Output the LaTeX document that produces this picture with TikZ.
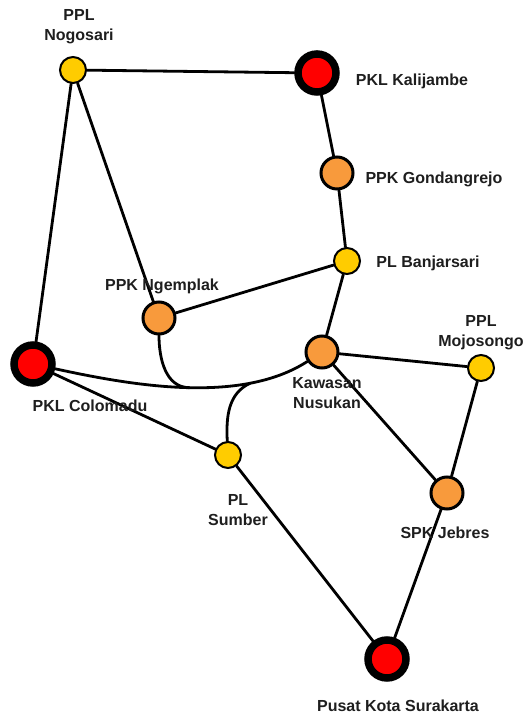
\documentclass[tikz,border=0pt]{standalone}
\usepackage{fontspec}
\setmainfont{Liberation Sans}
\usetikzlibrary{backgrounds}
\definecolor{hubred}{RGB}{255,0,0}
\definecolor{ppkorange}{RGB}{248,154,60}
\definecolor{plyellow}{RGB}{255,204,0}
\definecolor{labelgray}{RGB}{30,30,30}

\tikzset{
    hub/.style={circle, draw=black, fill=hubred, line width=7.5pt, minimum size=38pt, inner sep=0pt},
    ppk/.style={circle, draw=black, fill=ppkorange, line width=3pt, minimum size=32pt, inner sep=0pt},
    ppl/.style={circle, draw=black, fill=plyellow, line width=2pt, minimum size=26pt, inner sep=0pt},
    lbl/.style={font=\bfseries\fontsize{16}{20}\selectfont, text=labelgray, align=center, inner sep=0pt},
    road/.style={line width=2.8pt, line cap=round}
}

\begin{document}
\begin{tikzpicture}[x=1pt, y=1pt]
    \useasboundingbox (0,0) rectangle (525,715);

    % centres
    \node[hub] (Kalijambe) at (317, 642) {};
    \node[hub] (Colomadu) at (33, 351) {};
    \node[hub] (Pusat) at (387, 56) {};
    \node[ppk] (Gondangrejo) at (337, 542) {};
    \node[ppk] (Ngemplak) at (159, 397) {};
    \node[ppk] (Nusukan) at (322, 363) {};
    \node[ppk] (Jebres) at (447, 222) {};
    \node[ppl] (Nogosari) at (73, 645) {};
    \node[ppl] (Banjarsari) at (347, 454) {};
    \node[ppl] (Mojosongo) at (481, 347) {};
    \node[ppl] (Sumber) at (228, 260) {};

    % labels
    \node[lbl] (lNogosari) at (79, 688) {PPL\\Nogosari};
    \node[lbl, anchor=base] (lKalijambe) at (412, 629) {PKL Kalijambe};
    \node[lbl, anchor=base] (lGondangrejo) at (434, 531) {PPK Gondangrejo};
    \node[lbl, anchor=base] (lBanjarsari) at (428, 447) {PL Banjarsari};
    \node[lbl, anchor=base] (lNgemplak) at (162, 424) {PPK Ngemplak};
    \node[lbl, anchor=base] (lColomadu) at (90, 303) {PKL Colomadu};
    \node[lbl] (lNusukan) at (327, 322) {Kawasan\\Nusukan};
    \node[lbl] (lMojosongo) at (481, 382) {PPL\\Mojosongo};
    \node[lbl] (lSumber) at (238, 205) {PL\\Sumber};
    \node[lbl, anchor=base] (lJebres) at (445, 176) {SPK Jebres};
    \node[lbl, anchor=base] (lPusat) at (398, 3) {Pusat Kota Surakarta};

    % roads
    \begin{scope}[on background layer]
        \foreach \a/\b in {Nogosari/Kalijambe, Nogosari/Colomadu, Nogosari/Ngemplak,
                           Kalijambe/Gondangrejo, Gondangrejo/Banjarsari, Banjarsari/Ngemplak,
                           Banjarsari/Nusukan, Colomadu/Sumber, Sumber/Pusat,
                           Nusukan/Mojosongo, Nusukan/Jebres, Mojosongo/Jebres, Jebres/Pusat}
            \draw[road] (\a) -- (\b);

        \draw[road] (Colomadu) .. controls (130, 330) and (240, 310) .. (Nusukan)
            coordinate[pos=0.52] (j1) coordinate[pos=0.75] (j2);
        \draw[road] (Ngemplak) to[out=-90, in=180] (j1);
        \draw[road] (Sumber) to[out=93, in=205] (j2);
    \end{scope}
\end{tikzpicture}
\end{document}
